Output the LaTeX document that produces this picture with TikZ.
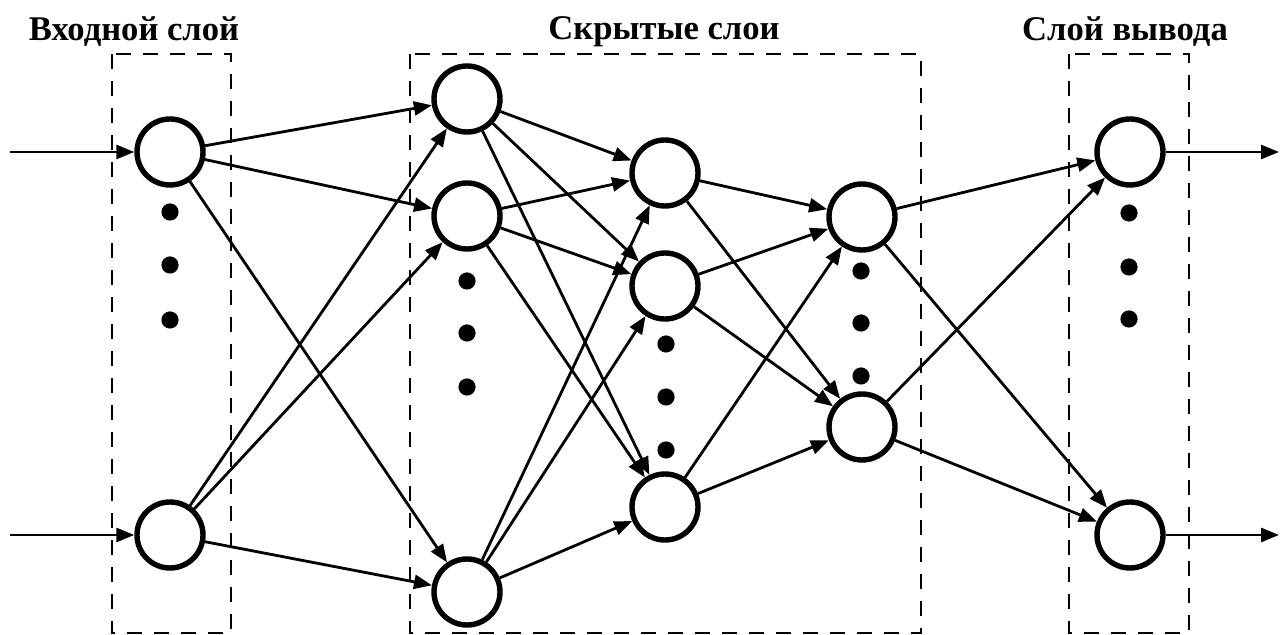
\documentclass[tikz,border=0pt]{standalone}
\usepackage{fontspec}
\setmainfont{Liberation Serif}
\usetikzlibrary{arrows.meta}
\tikzset{
  neuron/.style={circle, draw, line width=2.7pt, minimum size=33pt, inner sep=0pt, fill=white},
  conn/.style={line width=1.4pt, -{Triangle[length=9pt,width=7pt]}},
  layerbox/.style={line width=1.3pt, dash pattern=on 7.5pt off 6pt},
  title/.style={font=\bfseries\fontsize{17.3}{19}\selectfont, inner sep=0pt},
  dotmark/.style={fill=black}
}
\begin{document}
\begin{tikzpicture}[x=0.5pt,y=-0.5pt]
\useasboundingbox (0,0) rectangle (1280,635);
% boxes
\draw[layerbox] (112,54) rectangle (231,633);
\draw[layerbox] (410,54) rectangle (921,633);
\draw[layerbox] (1069,54) rectangle (1189,633);
% titles
\node[title] (t1) at (134,32) {Входной слой};
\node[title] (t2) at (664,32) {Скрытые слои};
\node[title] (t3) at (1125,32) {Слой вывода};
% free ends
\coordinate (s1) at (10,152);
\coordinate (s2) at (10,535);
\coordinate (e1) at (1279,152);
\coordinate (e2) at (1279,535);
% neurons
\node[neuron] (i1) at (170,152) {};
\node[neuron] (i2) at (170,535) {};
\node[neuron] (a1) at (467,99) {};
\node[neuron] (a2) at (467,216) {};
\node[neuron] (a3) at (467,592) {};
\node[neuron] (b1) at (665,173) {};
\node[neuron] (b2) at (665,286) {};
\node[neuron] (b3) at (665,507) {};
\node[neuron] (c1) at (862,217) {};
\node[neuron] (c2) at (862,427) {};
\node[neuron] (o1) at (1130,152) {};
\node[neuron] (o2) at (1130,535) {};
% dots
\foreach \y in {212,265,320} \fill[dotmark] (170,\y) circle[radius=4.3pt];
\foreach \y in {281,333,387} \fill[dotmark] (467,\y) circle[radius=4.3pt];
\foreach \y in {344,397,450} \fill[dotmark] (666,\y) circle[radius=4.3pt];
\foreach \y in {271,323,376} \fill[dotmark] (861,\y) circle[radius=4.3pt];
\foreach \y in {213,267,319} \fill[dotmark] (1129,\y) circle[radius=4.3pt];
% connections
\draw[conn] (s1) -- (i1);
\draw[conn] (s2) -- (i2);
\foreach \p in {i1,i2} \foreach \q in {a1,a2,a3} \draw[conn] (\p) -- (\q);
\foreach \p in {a1,a2,a3} \foreach \q in {b1,b2,b3} \draw[conn] (\p) -- (\q);
\foreach \p in {b1,b2,b3} \foreach \q in {c1,c2} \draw[conn] (\p) -- (\q);
\foreach \p in {c1,c2} \foreach \q in {o1,o2} \draw[conn] (\p) -- (\q);
\draw[conn] (o1) -- (e1);
\draw[conn] (o2) -- (e2);
\end{tikzpicture}
\end{document}
